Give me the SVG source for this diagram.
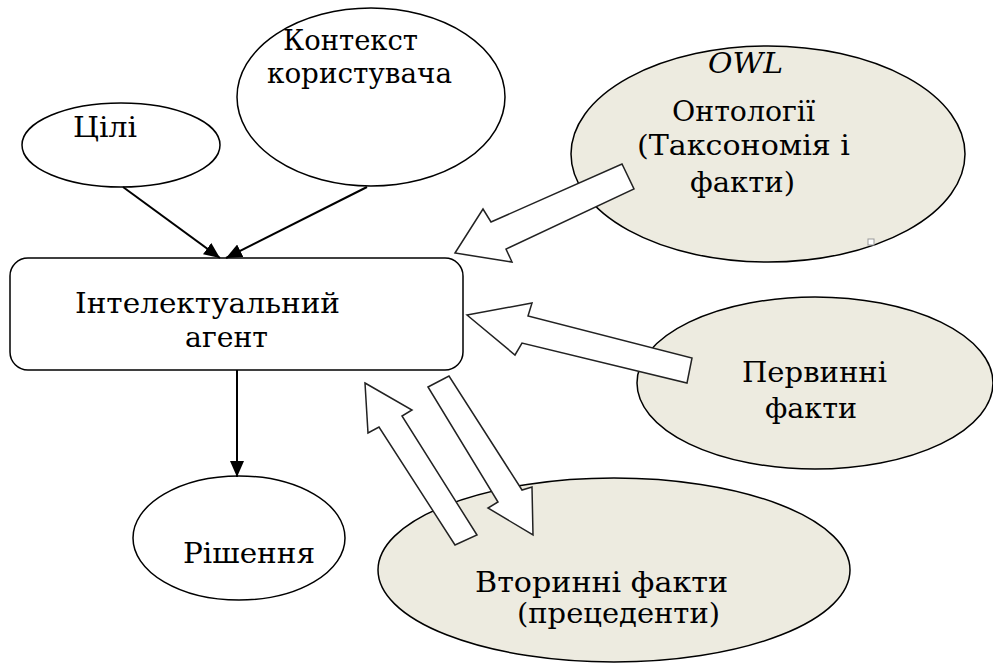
<svg xmlns="http://www.w3.org/2000/svg" width="993" height="666" viewBox="0 0 993 666">
<style>
.t{font-family:"DejaVu Serif","Liberation Serif",serif;font-size:28px;fill:#000}
.n{fill:#fff;stroke:#000;stroke-width:1.5}
.k{fill:#EDEBE0;stroke:#000;stroke-width:1.5}
.c{fill:none;stroke:#000;stroke-width:2}
.b{fill:#fff;stroke:#222;stroke-width:1.5;stroke-linejoin:miter}
</style>
<defs>
<marker id="ah" markerUnits="userSpaceOnUse" markerWidth="16" markerHeight="14" viewBox="0 0 16 14" refX="16" refY="7" orient="auto">
<path d="M0,0 L16,7 L0,14 z" fill="#000"/>
</marker>
</defs>
<rect width="993" height="666" fill="#fff"/>

<g id="owl">
<ellipse class="k" cx="768" cy="154" rx="197" ry="108"/>
<text class="t" x="708" y="73" font-style="italic" textLength="75" lengthAdjust="spacingAndGlyphs">OWL</text>
<text class="t" x="672" y="121" textLength="143" lengthAdjust="spacingAndGlyphs">Онтології</text>
<text class="t" x="637" y="155" textLength="213" lengthAdjust="spacingAndGlyphs">(Таксономія і</text>
<text class="t" x="690" y="192" textLength="105" lengthAdjust="spacingAndGlyphs">факти)</text>
<rect x="868" y="239" width="6" height="6" fill="#fff" stroke="#999" stroke-width="1"/>
</g>

<g id="pervynni">
<ellipse class="k" cx="815" cy="383" rx="178" ry="86"/>
<text class="t" x="742" y="382" textLength="145" lengthAdjust="spacingAndGlyphs">Первинні</text>
<text class="t" x="765" y="418" textLength="92" lengthAdjust="spacingAndGlyphs">факти</text>
</g>

<g id="vtorynni">
<ellipse class="k" cx="614" cy="570" rx="236" ry="92"/>
<text class="t" x="475" y="592" textLength="253" lengthAdjust="spacingAndGlyphs">Вторинні факти</text>
<text class="t" x="517" y="623" textLength="203" lengthAdjust="spacingAndGlyphs">(прецеденти)</text>
</g>

<g id="tsili">
<ellipse class="n" cx="121" cy="145" rx="99" ry="42"/>
<text class="t" x="73" y="137" textLength="64" lengthAdjust="spacingAndGlyphs">Цілі</text>
</g>

<g id="kontekst">
<ellipse class="n" cx="371" cy="97" rx="134" ry="89"/>
<text class="t" x="283" y="50" textLength="135" lengthAdjust="spacingAndGlyphs">Контекст</text>
<text class="t" x="267" y="83" textLength="185" lengthAdjust="spacingAndGlyphs">користувача</text>
</g>

<g id="agent">
<rect class="n" x="10" y="258" width="453" height="112" rx="18" ry="18"/>
<text class="t" x="75" y="313" textLength="265" lengthAdjust="spacingAndGlyphs">Інтелектуальний</text>
<text class="t" x="185" y="347" textLength="83" lengthAdjust="spacingAndGlyphs">агент</text>
</g>

<g id="rishennia">
<ellipse class="n" cx="239" cy="538" rx="106" ry="62"/>
<text class="t" x="183" y="563" textLength="132" lengthAdjust="spacingAndGlyphs">Рішення</text>
</g>

<g id="connectors">
<line class="c" x1="123" y1="187" x2="220" y2="258" marker-end="url(#ah)"/>
<line class="c" x1="367" y1="187" x2="226" y2="258" marker-end="url(#ah)"/>
<line class="c" x1="237" y1="370" x2="237" y2="477" marker-end="url(#ah)"/>
<polygon class="b" points="455,253 483,209 491,222 622,164 634,189 506,249 512,262"/>
<polygon class="b" points="467,315 532,303 528,316 692,358 687,383 522,343 515,355"/>
<polygon class="b" points="365,383 412,410 402,416 477,535 455,545 379,427 368,433"/>
<polygon class="b" points="428,387 449,376 522,490 532,487 533,535 488,508 498,502"/>
</g>
</svg>
